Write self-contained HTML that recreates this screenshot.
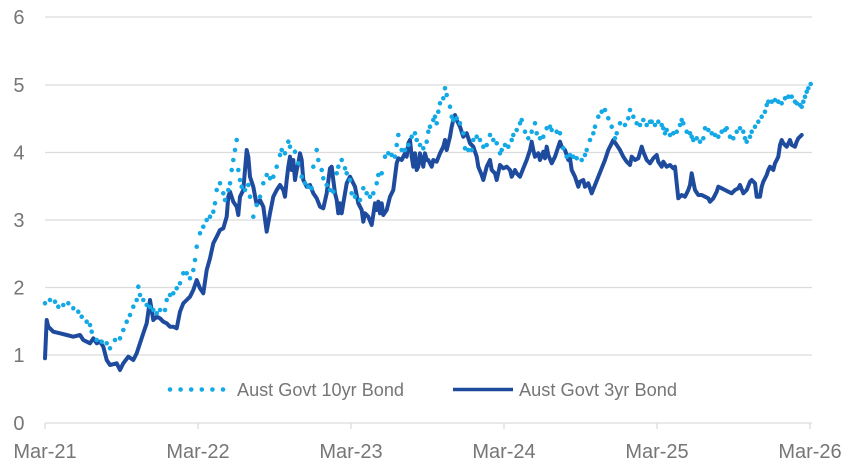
<!DOCTYPE html>
<html>
<head>
<meta charset="utf-8">
<style>
  html,body{margin:0;padding:0;background:#fff;}
  svg{display:block;}
  text{font-family:"Liberation Sans",Arial,sans-serif;fill:#767676;}
</style>
</head>
<body>
<svg width="848" height="473" viewBox="0 0 848 473" xmlns="http://www.w3.org/2000/svg">
  <!-- gridlines -->
  <g stroke="#dcdcdc" stroke-width="1.3">
    <line x1="45" y1="17" x2="812" y2="17"/>
    <line x1="45" y1="85" x2="812" y2="85"/>
    <line x1="45" y1="152.5" x2="812" y2="152.5"/>
    <line x1="45" y1="220" x2="812" y2="220"/>
    <line x1="45" y1="287.5" x2="812" y2="287.5"/>
    <line x1="45" y1="355" x2="812" y2="355"/>
    <line x1="45" y1="423" x2="812" y2="423"/>
    <line x1="45" y1="423" x2="45" y2="429"/>
    <line x1="198" y1="423" x2="198" y2="429"/>
    <line x1="351" y1="423" x2="351" y2="429"/>
    <line x1="504" y1="423" x2="504" y2="429"/>
    <line x1="657" y1="423" x2="657" y2="429"/>
    <line x1="810" y1="423" x2="810" y2="429"/>
  </g>
  <!-- y labels -->
  <g font-size="20" text-anchor="end">
    <text x="24.5" y="24">6</text>
    <text x="24.5" y="92">5</text>
    <text x="24.5" y="159.5">4</text>
    <text x="24.5" y="227">3</text>
    <text x="24.5" y="294.5">2</text>
    <text x="24.5" y="362">1</text>
    <text x="24.5" y="430">0</text>
  </g>
  <!-- x labels -->
  <g font-size="20" text-anchor="middle">
    <text x="45" y="458">Mar-21</text>
    <text x="198" y="458">Mar-22</text>
    <text x="351" y="458">Mar-23</text>
    <text x="504" y="458">Mar-24</text>
    <text x="657" y="458">Mar-25</text>
    <text x="810" y="458">Mar-26</text>
  </g>

  <!-- 3yr line -->
  <polyline fill="none" stroke="#1E4B9D" stroke-width="4" stroke-linejoin="round" stroke-linecap="round"
    points="45,358.3 46.7,320 48.3,326.7 53.3,331.7 60,333.3 66.7,335 73.3,336.7 80,335 83.3,340 90,343.3 93.3,338.3 96.7,343.3 100,341.7 103.3,346.7 106.7,360 110,365 116.7,363.3 120,370 123.3,363.3 128.3,356.7 133.3,360 136.7,353.3 140,343.3 143.3,333.3 146.7,323.3 150,300 153.3,320 156.7,316.7 160,318.3 163.3,321.7 166.7,323.3 170,326.7 173.3,326.7 176.7,328.3 180,311.7 183.3,303.3 186.7,300 190,296.7 193.3,290 196.7,280 200,288.3 203.3,293.3 206.7,270 210,258.3 213.3,243.3 216.7,236.7 220,230 223.3,228.3 226.7,216.7 228.3,196.7 230,191.7 233.3,201.7 236.7,206.7 238.3,215 240,196.7 243.3,190 246.7,150 248.3,156.7 250,176.7 253.3,186.7 256.7,205 260,200 263.3,206.7 266.7,231.7 270,213.3 273.3,196.7 276.7,190 280,185 283.3,190 285,196.7 286.7,180 288.3,166.7 290,156.7 291.7,170 293.3,160 295,180 296.7,170 298.3,163.3 300,153.3 301.7,160 303.3,180 306.7,186.7 310,185 313.3,193.3 316.7,198.3 320,206.7 323.3,208.3 326.7,193.3 330,168.3 331.7,166.7 333.3,180 335,193.3 336.7,200 338.3,213.3 340,203.3 341.7,213.3 343.3,203.3 346.7,183.3 350,176.7 353.3,183.3 355,186.7 358.3,203.3 361.7,210 363.3,221.7 365,213.3 368.3,216.7 371.7,225 375,203.3 376.7,210 378.3,201.7 380,213.3 381.7,203.3 383.3,215 386.7,210 390,196.7 393.3,190 396.7,163.3 398.3,158.3 401.7,160 405,153.3 406.7,156.7 408.3,143.3 410,140 411.7,156.7 413.3,166.7 415,153.3 416.7,170 418.3,166.7 420,153.3 423.3,166.7 425,153.3 426.7,160 428.3,160 431.7,166.7 433.3,160 436.7,161.7 440,153.3 443.3,146.7 445,140 446.7,150 450,136.7 451.7,126.7 453.3,120 455,115 456.7,120 460,126.7 463.3,136.7 466.7,133.3 470,143.3 473.3,146.7 476.7,156.7 478.3,166.7 481.7,175 483.3,180 486.7,166.7 490,160 491.7,170 495,173.3 496.7,180 500,165 503.3,168.3 506.7,166.7 510,170 511.7,176.7 515,170 516.7,173.3 520,176.7 523.3,168.3 526.7,160 530,150 531.7,141.7 533.3,150 535,156.7 538.3,153.3 540,160 543.3,151.7 545,158.3 546.7,146.7 548.3,155 551.7,163.3 555,156.7 558.3,146.7 560,141.7 561.7,146.7 565,150 568.3,160 570,158.3 571.7,170 575,176.7 578.3,186.7 580,181.7 583.3,180 585,186.7 588.3,183.3 591.7,193.3 595,185 598.3,176.7 601.7,168.3 605,160 608.3,150 611.7,143.3 613.3,140 616.7,145 620,150 623.3,156.7 626.7,161.7 630,165 631.7,156.7 635,160 638.3,158.3 641.7,146.7 643.3,151.7 646.7,160 650,163.3 653.3,158.3 656.7,155 658.3,161.7 661.7,166.7 663.3,161.7 666.7,166.7 670,165 673.3,168.3 675,166.7 676.7,183.3 678.3,198.3 681.7,195 685,196.7 688.3,190 690,185 691.7,173.3 693.3,181.7 695,190 698.3,195 701.7,195 705,196.7 708.3,198.3 710,201.7 713.3,198.3 716.7,191.7 718.3,186.7 721.7,188.3 725,190 728.3,191.7 731.7,193.3 735,190 738.3,188.3 740,185 743.3,193.3 746.7,190 750,181.7 751.7,180 755,183.3 756.7,196.7 760,196.7 761.7,186.7 763.3,181.7 766.7,175 768.3,170 770,166.7 773.3,170 775,163.3 776.7,160 778.3,156.7 780,145 781.7,140 783.3,143.3 786.7,146.7 790,140 791.7,145 795,146.7 796.7,141.7 798.3,138.3 800,136.7 801.7,135"/>

  <!-- 10yr dots -->
  <path fill="none" stroke="#12A9E6" stroke-width="4.6" stroke-linecap="round"
    d="M45 303.3h0M50 300h0M55 301.7h0M58.3 306.7h0M63.3 305h0M68.3 303.3h0M73.3 308.3h0M78.3 311.7h0M81.7 316.7h0M86.7 321.7h0M90 325h0M91.7 331.7h0M96.7 340h0M101.7 341.7h0M106.7 343.3h0M110 348.3h0M115 340h0M120 338.3h0M123.3 330h0M126.7 321.7h0M130 315h0M133.3 306.7h0M136.7 300h0M138.3 286.7h0M140 295h0M143.3 300h0M146.7 305h0M150 307h0M153.3 310h0M156.7 313.3h0M160 310h0M165 310h0M166.7 300h0M170 295h0M173.3 293.3h0M176.7 288.3h0M180 283.3h0M183.3 273.3h0M186.7 273.3h0M190 278.3h0M193.3 270h0M195 260h0M196.7 246.7h0M200 233.3h0M203.3 226.7h0M206.7 220h0M210 216.7h0M213.3 211.7h0M215 203.3h0M216.7 190h0M220 183.3h0M223.3 193.3h0M225 200h0M228.3 190h0M230 183.3h0M231.7 170h0M233.3 160h0M235 150h0M236.7 140h0M238.3 170h0M240 180h0M241.7 186.7h0M245 190h0M248.3 185h0M250 196.7h0M253.3 216.7h0M256.7 205h0M260 196.7h0M263.3 183.3h0M266.7 175h0M270 178.3h0M273.3 176.7h0M276.7 166.7h0M280 155h0M281.7 150h0M285 153.3h0M288.3 141.7h0M290 146.7h0M295 151.7h0M298.3 163.3h0M301.7 176.7h0M305 183.3h0M308.3 186.7h0M311.7 188.3h0M313.3 166.7h0M316.7 150h0M318.3 160h0M321.7 170h0M323.3 178.3h0M326.7 185h0M330 190h0M333.3 191.7h0M336.7 173.3h0M338.3 166.7h0M341.7 160h0M345 168.3h0M346.7 173.3h0M350 180h0M351.7 193.3h0M355 196.7h0M360 200h0M363.3 188.3h0M366.7 193.3h0M370 196.7h0M373.3 193.3h0M376.7 183.3h0M378.3 175h0M381.7 173.3h0M385 156.7h0M388.3 153.3h0M391.7 155h0M395 156.7h0M396.7 145h0M398.3 135h0M401.7 150h0M405 150h0M408.3 145h0M411.7 136.7h0M415 133.3h0M416.7 140h0M420 145h0M423.3 148.3h0M426.7 141.7h0M428.3 131.7h0M430 126.7h0M433.3 120h0M435 116.7h0M436.7 123.3h0M438.3 111.7h0M440 103.3h0M443.3 98.3h0M445 88.3h0M446.7 95h0M450 106.7h0M451.7 116.7h0M453.3 120h0M456.7 118.3h0M460 123.3h0M463.3 133.3h0M465 148.3h0M468.3 150h0M471.7 150h0M473.3 140h0M476.7 136.7h0M480 140h0M483.3 146.7h0M486.7 145h0M490 135h0M493.3 140h0M496.7 143.3h0M500 153.3h0M501.7 150h0M505 145h0M508.3 146.7h0M511.7 140h0M513.3 135h0M516.7 130h0M520 123.3h0M521.7 120h0M525 131.7h0M528.3 138.3h0M531.7 131.7h0M535 123.3h0M536.7 133.3h0M540 138.3h0M543.3 136.7h0M546.7 128.3h0M550 126.7h0M551.7 130h0M556.7 131.7h0M560 133.3h0M563.3 148.3h0M566.7 156.7h0M570 155h0M573.3 156.7h0M576.7 158.3h0M581.7 160h0M585 155h0M586.7 150h0M590 140h0M593.3 133.3h0M595 126.7h0M598.3 116.7h0M601.7 111.7h0M605 110h0M608.3 118.3h0M611.7 126.7h0M615 138.3h0M616.7 133.3h0M620 123.3h0M625 125h0M628.3 118.3h0M630 110h0M633.3 116.7h0M636.7 123.3h0M640 125h0M643.3 120h0M646.7 125h0M650 121.7h0M651.7 121.7h0M655 125h0M658.3 121.7h0M661.7 125h0M663.3 128.3h0M665 133.3h0M666.7 130h0M670 135h0M673.3 133.3h0M676.7 131.7h0M680 125h0M681.7 120h0M683.3 123.3h0M686.7 131.7h0M690 133.3h0M691.7 136.7h0M693.3 140h0M696.7 138.3h0M700 141.7h0M703.3 138.3h0M705 128.3h0M708.3 130h0M711.7 133.3h0M715 135h0M718.3 136.7h0M721.7 131.7h0M725 130h0M726.7 128.3h0M730 136.7h0M733.3 138.3h0M736.7 131.7h0M740 128.3h0M743.3 131.7h0M745 138.3h0M746.7 141.7h0M750 136.7h0M751.7 131.7h0M755 126.7h0M758.3 121.7h0M761.7 116.7h0M765 111.7h0M766.7 105h0M768.3 101.7h0M771.7 101.7h0M775 100h0M778.3 101.7h0M781.7 103.3h0M785 98.3h0M788.3 96.7h0M791.7 96.7h0M795 101.7h0M796.7 103.3h0M800 105h0M801.7 106.7h0M803.3 101.7h0M805 96.7h0M806.7 91.7h0M808.3 88.3h0M810.7 84h0"/>

  <!-- legend -->
  <path fill="none" stroke="#12A9E6" stroke-width="4.6" stroke-linecap="round"
    d="M170 389.5h0M180.6 389.5h0M191.2 389.5h0M201.8 389.5h0M212.4 389.5h0M223 389.5h0"/>
  <text x="237" y="396" font-size="18" textLength="167" lengthAdjust="spacingAndGlyphs">Aust Govt 10yr Bond</text>
  <line x1="453" y1="389.5" x2="513" y2="389.5" stroke="#1E4B9D" stroke-width="3.6"/>
  <text x="519" y="396" font-size="18" textLength="158" lengthAdjust="spacingAndGlyphs">Aust Govt 3yr Bond</text>
</svg>
</body>
</html>
